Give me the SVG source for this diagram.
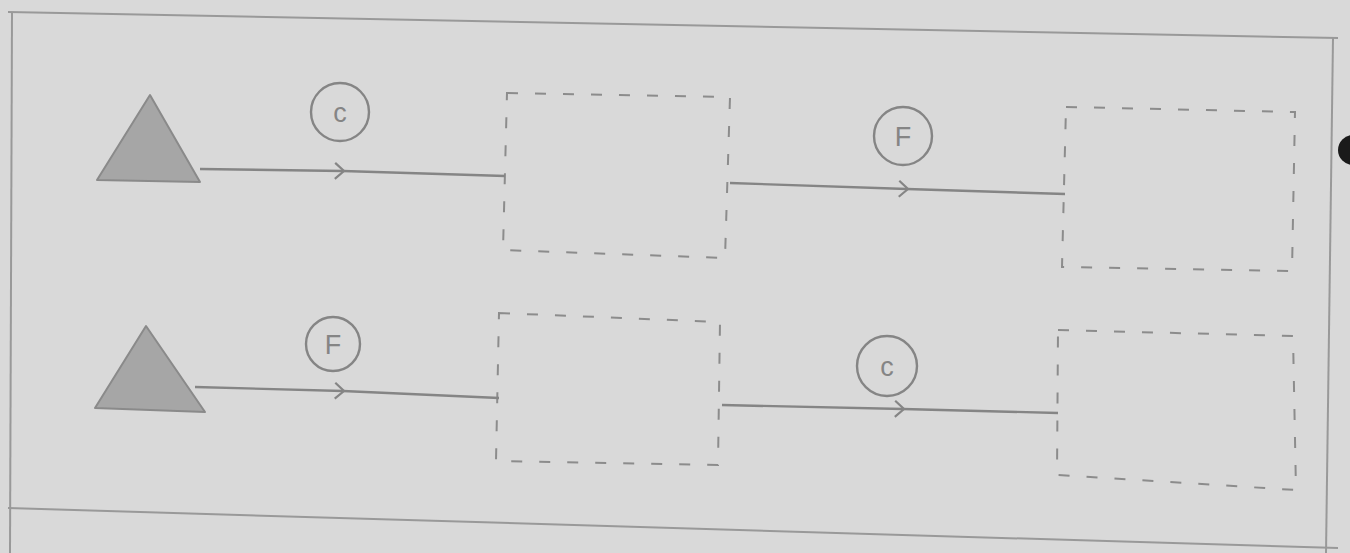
<svg xmlns="http://www.w3.org/2000/svg" width="1350" height="553" viewBox="0 0 1350 553">
<style>
.frame{fill:none;stroke:#999999;stroke-width:2}
.tri{fill:#a6a6a6;stroke:#8a8a8a;stroke-width:2;stroke-linejoin:round}
.box{fill:none;stroke:#8c8c8c;stroke-width:2;stroke-dasharray:11 17}
.edge{fill:none;stroke:#858585;stroke-width:2.4;marker-mid:url(#chev)}
.lbl circle{fill:none;stroke:#858585;stroke-width:2.4}
.lbl text{font-family:"Liberation Sans",Arial,sans-serif;font-size:27px;fill:#858585;text-anchor:middle;dominant-baseline:central}
</style>
<defs>
<marker id="chev" viewBox="-10 -10 20 20" markerWidth="20" markerHeight="20" markerUnits="userSpaceOnUse" orient="auto">
<path d="M-8,-8 L1,0 L-8,8" fill="none" stroke="#858585" stroke-width="2.2"/>
</marker>
</defs>
<rect width="1350" height="553" fill="#d9d9d9"/>
<g id="frame">
<path class="frame" d="M8,12 L1338,38"/>
<path class="frame" d="M12,12 L10,553"/>
<path class="frame" d="M1333,38 L1326,553"/>
<path class="frame" d="M8,508 L1338,548"/>
<circle cx="1353" cy="150" r="15" fill="#1a1a1a"/>
</g>
<g id="source1"><path class="tri" d="M97,180 L150,95 L200,182 Z"/></g>
<g id="source2"><path class="tri" d="M95,408 L146,326 L205,412 Z"/></g>
<g id="box1"><path class="box" d="M507,93 L730,97 L725,258 L503,250 Z"/></g>
<g id="box2"><path class="box" d="M1066,107 L1295,112 L1292,271 L1062,267 Z"/></g>
<g id="box3"><path class="box" d="M499,313 L720,322 L718,465 L496,461 Z"/></g>
<g id="box4"><path class="box" d="M1058,330 L1293,336 L1296,490 L1057,475 Z"/></g>
<g id="connectors">
<polyline class="edge" points="200,169 343,171 505,176"/>
<polyline class="edge" points="730,183 907,189 1065,194"/>
<polyline class="edge" points="195,387 343,391 499,398"/>
<polyline class="edge" points="722,405 903,409 1058,413"/>
</g>
<g id="labels">
<g class="lbl"><circle cx="340" cy="112" r="29"/><text x="340" y="113">c</text></g>
<g class="lbl"><circle cx="903" cy="136" r="29"/><text x="903" y="137">F</text></g>
<g class="lbl"><circle cx="333" cy="344" r="27"/><text x="333" y="345">F</text></g>
<g class="lbl"><circle cx="887" cy="366" r="30"/><text x="887" y="367">c</text></g>
</g>
</svg>
